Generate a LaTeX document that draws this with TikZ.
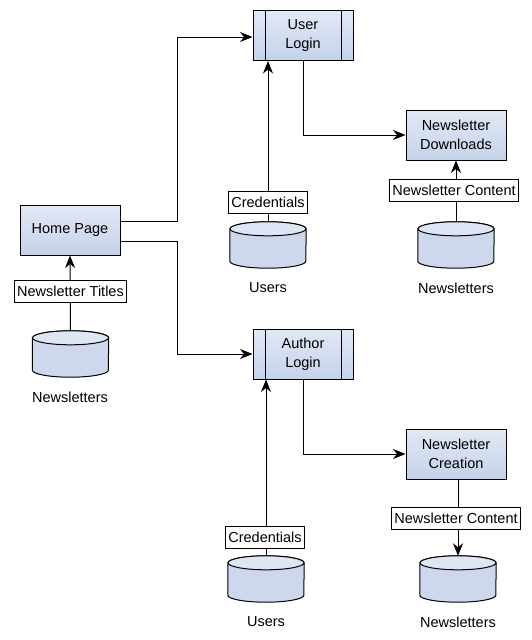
\documentclass[tikz,border=0pt]{standalone}
\usepackage{fontspec}
\setmainfont{Liberation Sans}
\usetikzlibrary{arrows.meta,calc}
\definecolor{boxlight}{RGB}{226,233,245}
\definecolor{boxdark}{RGB}{196,210,233}
\definecolor{cyltop}{RGB}{222,230,243}
\definecolor{cylbody}{RGB}{205,216,236}
\tikzset{
  txt/.style={font=\fontsize{14.5}{19}\selectfont},
  procbox/.style={txt, draw=black, line width=1pt, top color=boxlight, bottom color=boxdark,
    minimum width=100pt, minimum height=50pt, align=center, inner sep=0pt},
  lblbox/.style={txt, draw=black, line width=1pt, fill=white, inner sep=2.5pt, minimum height=22pt},
  plain/.style={txt},
  conn/.style={line width=1pt, -{Stealth[length=12.5pt,width=10pt,inset=4pt]}},
}
\newcommand\dbcyl[3]{%
  \node[minimum width=76pt, minimum height=46pt, inner sep=0pt] (#1) at (#2,#3) {};
  \filldraw[line width=1pt, fill=cylbody] ([yshift=-7pt]#1.north west) -- ([yshift=7pt]#1.south west)
     arc[start angle=180, end angle=360, x radius=38pt, y radius=7pt]
     -- ([yshift=-7pt]#1.north east)
     arc[start angle=0, end angle=180, x radius=38pt, y radius=7pt] -- cycle;
  \filldraw[line width=1pt, fill=cyltop] ([yshift=-7pt]#1.north) ellipse[x radius=38pt, y radius=7pt];
}
\begin{document}
\begin{tikzpicture}[x=1pt,y=-1pt]
\useasboundingbox (0,0) rectangle (532,640);
% process boxes
\node[procbox] (hp) at (70,230) {Home Page};
\node[procbox] (ul) at (303,35.5) {User\\Login};
\draw[line width=1pt] ([xshift=13pt]ul.north west) -- ([xshift=13pt]ul.south west);
\draw[line width=1pt] ([xshift=-12pt]ul.north east) -- ([xshift=-12pt]ul.south east);
\node[procbox] (nd) at (456,135) {Newsletter\\Downloads};
\node[procbox] (al) at (303,354) {Author\\Login};
\draw[line width=1pt] ([xshift=13pt]al.north west) -- ([xshift=13pt]al.south west);
\draw[line width=1pt] ([xshift=-12pt]al.north east) -- ([xshift=-12pt]al.south east);
\node[procbox] (nc) at (456,454) {Newsletter\\Creation};
% data stores
\dbcyl{nl1}{70.5}{354}
\dbcyl{us1}{268}{245}
\dbcyl{nl2}{456}{245}
\dbcyl{us2}{266}{579}
\dbcyl{nl3}{458}{579}
\node[plain] (nl1t) at (70,397) {Newsletters};
\node[plain] (us1t) at (268,288) {Users};
\node[plain] (nl2t) at (456,288) {Newsletters};
\node[plain] (us2t) at (266,622) {Users};
\node[plain] (nl3t) at (458,622) {Newsletters};
% connectors
\draw[conn] ([yshift=9pt]hp.east) -- ++(57,0) |- ([yshift=-1.5pt]ul.west);
\draw[conn] ([yshift=-11pt]hp.east) -- ++(57,0) |- (al.west);
\draw[conn] (ul.south) |- (nd.west);
\draw[conn] (al.south) |- (nc.west);
\draw[conn] (nl1.north) -- (hp.south);
\draw[conn] (us1.north) -- (us1.north |- ul.south);
\draw[conn] (nl2.north) -- (nd.south);
\draw[conn] (us2.north) -- (us2.north |- al.south);
\draw[conn] (nc.south -| nl3.north) -- (nl3.north);
% labels on connectors
\node[lblbox] (l1) at (70.5,291.5) {Newsletter Titles};
\node[lblbox] (l2) at (268,202) {Credentials};
\node[lblbox] (l3) at (454,190) {Newsletter Content};
\node[lblbox] (l4) at (265,537) {Credentials};
\node[lblbox] (l5) at (456,518) {Newsletter Content};
\end{tikzpicture}
\end{document}
